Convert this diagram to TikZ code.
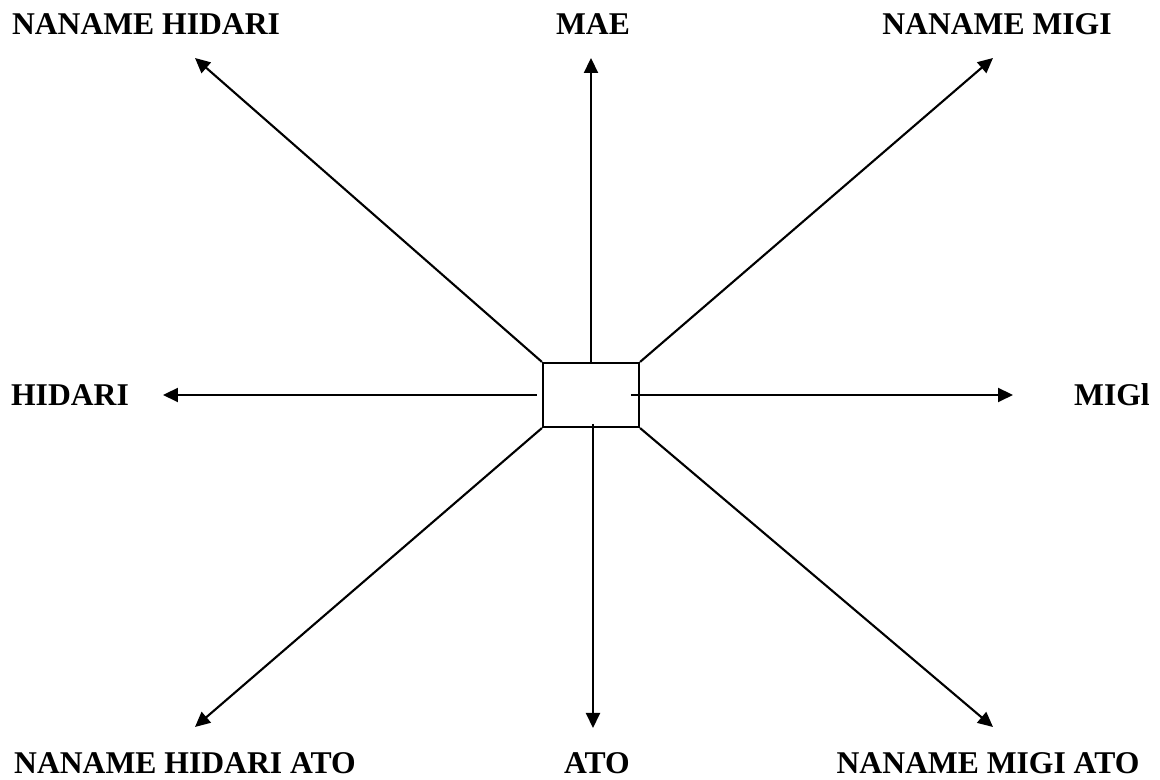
\documentclass[tikz,border=0pt]{standalone}
\usepackage{fontspec}
\setmainfont{Liberation Serif}
\usetikzlibrary{arrows.meta}

\begin{document}
\begin{tikzpicture}[
  font=\fontsize{9}{11}\selectfont\bfseries,
  box/.style={rectangle, draw, line width=0.6pt, minimum width=0.96cm,
              minimum height=0.64cm, inner sep=0pt},
  arr/.style={-{Triangle[length=1.5mm, width=1.4mm]}, line width=0.6pt},
  lbl/.style={inner sep=0pt}
]
  \useasboundingbox (-5.91,-3.85) rectangle (5.69,3.95);
  \node[box] (car) at (0,0) {};
  % arrow tips
  \coordinate (tmae) at (0,3.37);
  \coordinate (tato) at (0.02,-3.33);
  \coordinate (thid) at (-4.28,0);
  \coordinate (tmig) at (4.22,0);
  \coordinate (tnh)  at (-3.96,3.37);
  \coordinate (tnm)  at (4.02,3.37);
  \coordinate (tnha) at (-3.96,-3.32);
  \coordinate (tnma) at (4.02,-3.32);
  % start points inside the box
  \coordinate (shid) at (-0.54,0);
  \coordinate (smig) at (0.40,0);
  \coordinate (sato) at (0.02,-0.29);
  % labels
  \node[lbl] (mae)  at (0.02,3.71)  {MAE};
  \node[lbl] (nh)   at (-4.45,3.71) {NANAME HIDARI};
  \node[lbl] (nm)   at (4.06,3.71)  {NANAME MIGI};
  \node[lbl] (hid)  at (-5.21,0)    {HIDARI};
  \node[lbl] (mig)  at (5.21,0)     {MIGl};
  \node[lbl] (nha)  at (-4.06,-3.68) {NANAME HIDARI ATO};
  \node[lbl] (ato)  at (0.06,-3.68) {ATO};
  \node[lbl] (nma)  at (3.97,-3.68) {NANAME MIGI ATO};
  % straight arrows
  \draw[arr] (car.north) -- (tmae);
  \draw[arr] (sato) -- (tato);
  \draw[arr] (shid) -- (thid);
  \draw[arr] (smig) -- (tmig);
  % diagonal arrows from the corners
  \draw[arr] (car.north west) -- (tnh);
  \draw[arr] (car.north east) -- (tnm);
  \draw[arr] (car.south west) -- (tnha);
  \draw[arr] (car.south east) -- (tnma);
\end{tikzpicture}
\end{document}
